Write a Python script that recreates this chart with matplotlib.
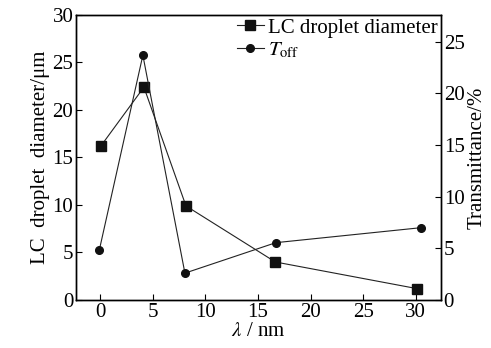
import matplotlib
matplotlib.use("Agg")
import matplotlib.pyplot as plt

plt.rcParams['font.family'] = ['Liberation Serif', 'DejaVu Serif']
plt.rcParams['mathtext.fontset'] = 'stix'

wavelength_d = [0.05, 4.15, 8.15, 16.65, 30.1]
diameter = [16.2, 22.4, 9.9, 4.0, 1.2]
wavelength_t = [-0.1, 4.05, 8.05, 16.7, 30.5]
toff = [4.8, 23.7, 2.6, 5.55, 7.0]

fig = plt.figure(figsize=(4.91, 3.48), dpi=100)
ax = fig.add_axes([0.155, 0.138, 0.743, 0.819])
ax2 = ax.twinx()

l1, = ax.plot(wavelength_d, diameter, '-', color='#222222', lw=0.8, marker='s', ms=7,
              mfc='#111111', mec='#111111', label='LC droplet diameter')
l2, = ax2.plot(wavelength_t, toff, '-', color='#222222', lw=0.8, marker='o', ms=5.5,
               mfc='#111111', mec='#111111', label=r'$T_{\mathrm{off}}$')

ax.set_xlim(-2.3, 32.4)
ax.set_ylim(0, 30)
ax2.set_ylim(0, 27.6)
ax.set_xticks([0, 5, 10, 15, 20, 25, 30])
ax.set_yticks([0, 5, 10, 15, 20, 25, 30])
ax2.set_yticks([0, 5, 10, 15, 20, 25])

fs = 15
for a in (ax, ax2):
    a.tick_params(direction='in', labelsize=fs, length=4, width=0.8, pad=2)
    for s in a.spines.values():
        s.set_linewidth(1.0)

ax.set_xlabel(r'$\lambda$ / nm', fontsize=fs, labelpad=0)
ax.set_ylabel('LC  droplet  diameter/μm', fontsize=fs, labelpad=2)
ax2.set_ylabel('Transmittance/%', fontsize=fs, labelpad=2)

leg = ax.legend([l1, l2], ['LC droplet diameter', r'$T_{\mathrm{off}}$'], loc='upper right',
                frameon=False, fontsize=fs, handlelength=1.3, handletextpad=0.2,
                borderaxespad=0.05, labelspacing=0.15, borderpad=0.1)

fig.savefig('out.png', dpi=100)
